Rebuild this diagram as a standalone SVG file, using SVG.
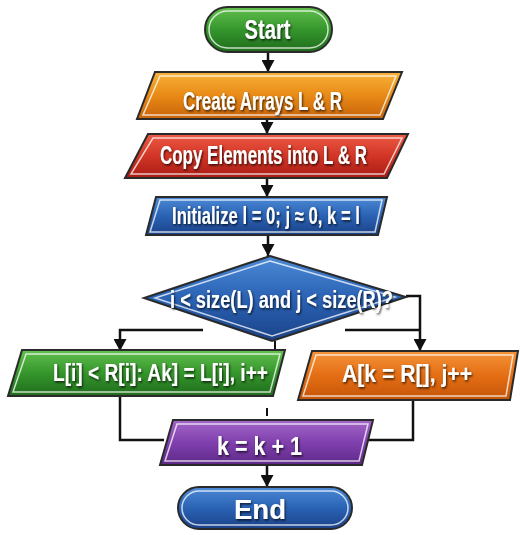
<svg xmlns="http://www.w3.org/2000/svg" width="520" height="535" viewBox="0 0 520 535">
  <defs>
    <linearGradient id="gGreen" x1="0" y1="0" x2="0" y2="1">
      <stop offset="0" stop-color="#62c04e"/><stop offset="0.5" stop-color="#35962c"/><stop offset="1" stop-color="#1f6c1c"/>
    </linearGradient>
    <linearGradient id="gOrange" x1="0" y1="0" x2="0" y2="1">
      <stop offset="0" stop-color="#f7b23a"/><stop offset="0.5" stop-color="#e88a16"/><stop offset="1" stop-color="#c8620a"/>
    </linearGradient>
    <linearGradient id="gRed" x1="0" y1="0" x2="0" y2="1">
      <stop offset="0" stop-color="#ec5a44"/><stop offset="0.5" stop-color="#d23526"/><stop offset="1" stop-color="#a81c14"/>
    </linearGradient>
    <linearGradient id="gBlue" x1="0" y1="0" x2="0" y2="1">
      <stop offset="0" stop-color="#4c8ad6"/><stop offset="0.5" stop-color="#2a62b4"/><stop offset="1" stop-color="#1b4288"/>
    </linearGradient>
    <linearGradient id="gOrange2" x1="0" y1="0" x2="0" y2="1">
      <stop offset="0" stop-color="#f5943a"/><stop offset="0.5" stop-color="#e46e14"/><stop offset="1" stop-color="#c45408"/>
    </linearGradient>
    <linearGradient id="gPurple" x1="0" y1="0" x2="0" y2="1">
      <stop offset="0" stop-color="#a466c8"/><stop offset="0.5" stop-color="#8040ae"/><stop offset="1" stop-color="#5e2888"/>
    </linearGradient>
    <filter id="ts" x="-10%" y="-30%" width="120%" height="160%">
      <feDropShadow dx="1" dy="1.5" stdDeviation="0.8" flood-color="#000" flood-opacity="0.75"/>
    </filter>
    <marker id="arrow" markerUnits="userSpaceOnUse" markerWidth="13" markerHeight="13" refX="12" refY="6.5" orient="auto">
      <path d="M0,0 L12,6.5 L0,13 z" fill="#111"/>
    </marker>
  </defs>
  <style>
    .outer { stroke: #2a2a2a; stroke-width: 2; }
    .inner { fill: none; stroke: #ffffff; stroke-opacity: 0.75; stroke-width: 1.5; }
    .label { font-family: "Liberation Sans", "DejaVu Sans", sans-serif; font-weight: bold; fill: #ffffff; text-anchor: middle; filter: url(#ts); }
    .edge { fill: none; stroke: #111; stroke-width: 2.5; }
    .thin { fill: none; stroke: #111; stroke-width: 2; }
  </style>

  <!-- connectors -->
  <g id="connectors">
    <path class="edge" d="M268,52 V72" marker-end="url(#arrow)"/>
    <path class="edge" d="M267,119 V134" marker-end="url(#arrow)"/>
    <path class="edge" d="M267,178 V197" marker-end="url(#arrow)"/>
    <path class="edge" d="M268,235 V256" marker-end="url(#arrow)"/>
    <path class="edge" d="M203,330 H120 V351" marker-end="url(#arrow)"/>
    <path class="edge" d="M406,296 H420 V351" marker-end="url(#arrow)"/>
    <path class="edge" d="M345,330 H420"/>
    <path class="thin" d="M275,341 V350"/>
    <path class="thin" d="M267,408 V416"/>
    <path class="edge" d="M120,396 V440 H164"/>
    <path class="edge" d="M413,400 V440 H366"/>
    <path class="edge" d="M267,465 V487" marker-end="url(#arrow)"/>
  </g>

  <g id="start">
    <rect class="outer" x="205" y="7" width="127" height="45" rx="22.5" fill="url(#gGreen)"/>
    <rect class="inner" x="209" y="11" width="119" height="37" rx="18.5"/>
    <text class="label" x="267.5" y="39" font-size="28" textLength="46" lengthAdjust="spacingAndGlyphs">Start</text>
  </g>

  <g id="create-arrays">
    <polygon class="outer" points="155,72 402,72 383,119 137,119" fill="url(#gOrange)"/>
    <polygon class="inner" points="160,76 396,76 380,115 143,115"/>
    <text class="label" x="262.5" y="110" font-size="26" textLength="159" lengthAdjust="spacingAndGlyphs">Create Arrays L &amp; R</text>
  </g>

  <g id="copy-elements">
    <polygon class="outer" points="148,134 408,134 387,178 125,178" fill="url(#gRed)"/>
    <polygon class="inner" points="153,138 402,138 384,174 131,174"/>
    <text class="label" x="263.5" y="164" font-size="25" textLength="207" lengthAdjust="spacingAndGlyphs">Copy Elements into L &amp; R</text>
  </g>

  <g id="initialize">
    <polygon class="outer" points="156,197 387,197 378,235 146,235" fill="url(#gBlue)"/>
    <polygon class="inner" points="160,200 382,200 375,232 150,232"/>
    <text class="label" x="266" y="224" font-size="23" textLength="188" lengthAdjust="spacingAndGlyphs">Initialize l = 0; j ≈ 0, k = l</text>
  </g>

  <g id="condition">
    <polygon class="outer" points="270,256 406,297 272,341 144,298" fill="url(#gBlue)"/>
    <polygon class="inner" points="270,261 395,297 272,336 155,298"/>
    <text class="label" x="281.5" y="308" font-size="23" textLength="223" lengthAdjust="spacingAndGlyphs">i &lt; size(L) and j &lt; size(R)?</text>
  </g>

  <g id="take-left">
    <polygon class="outer" points="22,350 285,350 273,396 8,396" fill="url(#gGreen)"/>
    <polygon class="inner" points="26,354 280,354 270,392 13,392"/>
    <text class="label" x="160.5" y="381" font-size="24" textLength="215" lengthAdjust="spacingAndGlyphs">L[i] &lt; R[i]: Ak] = L[i], i++</text>
  </g>

  <g id="take-right">
    <polygon class="outer" points="312,351 518,351 510,400 298,400" fill="url(#gOrange2)"/>
    <polygon class="inner" points="316,355 513,355 506,396 303,396"/>
    <text class="label" x="407" y="382" font-size="24" textLength="130" lengthAdjust="spacingAndGlyphs">A[k = R[], j++</text>
  </g>

  <g id="increment">
    <polygon class="outer" points="173,420 373,420 362,465 160,465" fill="url(#gPurple)"/>
    <polygon class="inner" points="177,424 368,424 359,461 165,461"/>
    <text class="label" x="259.5" y="455" font-size="25" textLength="85" lengthAdjust="spacingAndGlyphs">k = k + 1</text>
  </g>

  <g id="end">
    <rect class="outer" x="178" y="487" width="174" height="42" rx="21" fill="url(#gBlue)"/>
    <rect class="inner" x="182" y="491" width="166" height="34" rx="17"/>
    <text class="label" x="260" y="519" font-size="28" textLength="52" lengthAdjust="spacingAndGlyphs">End</text>
  </g>
</svg>
